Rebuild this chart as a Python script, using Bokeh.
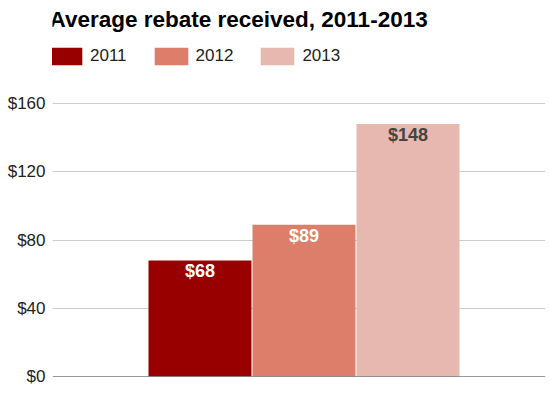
from bokeh.plotting import figure
from bokeh.models import (ColumnDataSource, Range1d, FixedTicker, NumeralTickFormatter,
                          Legend, LegendItem, Label, Span)
from bokeh.core.properties import value
from bokeh.embed import file_html
from bokeh.resources import INLINE

# ---- data ----
title_text = "Average rebate received, 2011-2013"
years = ["2011", "2012", "2013"]
rebates = [68, 89, 148]
y_ticks = [0, 40, 80, 120, 160]

# ---- styles ----
bar_colors = ["#980000", "#dd7e6b", "#e6b8af"]
label_colors = ["#ffffff", "#ffffff", "#444444"]
FONT = "Liberation Sans"

src = ColumnDataSource(dict(
    x=[i - 1 for i in range(len(years))],
    year=years,
    val=rebates,
    lab=["$%d" % v for v in rebates],
    color=bar_colors,
    tcolor=label_colors,
))

p = figure(width=548, height=390, output_backend="svg", toolbar_location=None,
           x_range=Range1d(-2.418, 2.322), y_range=Range1d(0, 220.4),
           min_border_left=52, min_border_right=3, min_border_top=0, min_border_bottom=14)
p.outline_line_color = None
p.xaxis.visible = False
p.xgrid.visible = False

yax = p.yaxis[0]
yax.ticker = FixedTicker(ticks=y_ticks)
yax.formatter = NumeralTickFormatter(format="$0")
yax.axis_line_color = None
yax.major_tick_line_color = None
yax.minor_tick_line_color = None
yax.major_tick_out = 0
yax.major_label_standoff = 7
yax.major_label_text_font = FONT
yax.major_label_text_font_size = "17px"
yax.major_label_text_color = "#222222"
p.ygrid.grid_line_color = "#cccccc"
p.ygrid.ticker = FixedTicker(ticks=y_ticks)

renderers = []
for i, yr in enumerate(years):
    r = p.vbar(x=[i - 1], top=[rebates[i]], width=0.99, color=bar_colors[i], line_color=None)
    renderers.append(r)

p.text(x="x", y="val", text="lab", source=src, text_color="tcolor",
       text_font=value(FONT), text_font_size="18px", text_font_style="bold",
       text_align="center", text_baseline="top", y_offset=1)

p.add_layout(Span(location=0, dimension="width", line_color="#333333", line_width=1))

legend = Legend(items=[LegendItem(label=yr, renderers=[r]) for yr, r in zip(years, renderers)],
                orientation="horizontal", location=(-8, 308.8),
                glyph_width=42, glyph_height=22, label_standoff=4, spacing=23,
                padding=0, margin=0, border_line_color=None, background_fill_alpha=0,
                label_text_font=FONT, label_text_font_size="17px", label_text_color="#222222")
p.add_layout(legend, "center")

p.add_layout(Label(x=-3, y=344.5, x_units="screen", y_units="screen", text=title_text,
                   text_font=FONT, text_font_size="22.5px", text_font_style="bold",
                   text_color="#000000"))

open("out.html", "w").write(file_html(p, INLINE))
